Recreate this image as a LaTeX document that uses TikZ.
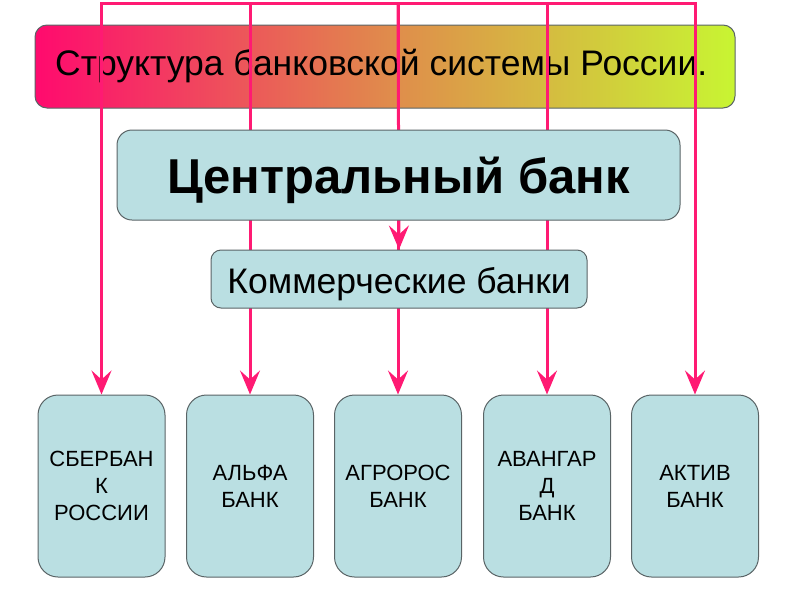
\documentclass[tikz,border=0pt]{standalone}
\usepackage{fontspec}
\setmainfont{Liberation Sans}
\usetikzlibrary{arrows.meta}
\pgfdeclarelayer{back}
\pgfdeclarelayer{lines}
\pgfsetlayers{back,lines,main}
\definecolor{pinkline}{HTML}{FF1A73}
\definecolor{boxfill}{HTML}{BADFE2}
\definecolor{boxdraw}{HTML}{5A6466}
\definecolor{gleft}{HTML}{FF0A6E}
\definecolor{gmid}{HTML}{E08A4C}
\definecolor{gright}{HTML}{C8F532}
\tikzset{
  bluebox/.style={draw=boxdraw, line width=1pt, fill=boxfill, align=center, inner sep=0pt},
  bankbox/.style={bluebox, rounded corners=20pt, minimum width=127pt, minimum height=182pt, font=\fontsize{22}{27}\selectfont},
  link/.style={draw=pinkline, line width=3pt},
  linkarrow/.style={link, -{Stealth[length=24pt, width=20pt, inset=9pt]}},
}
\begin{document}
\begin{tikzpicture}[x=1pt,y=-1pt]
\useasboundingbox (0,0) rectangle (800,600);
% banner
\begin{pgfonlayer}{back}
\node[draw=boxdraw, line width=1pt, rounded corners=12pt, left color=gleft, right color=gright, middle color=gmid,
      minimum width=700pt, minimum height=83pt, inner sep=0pt] (title) at (385,66.5) {};
\node[anchor=base west, font=\fontsize{35.5}{40}\selectfont, inner sep=0pt] (titletext) at (55,75) {Структура банковской системы России.};
\end{pgfonlayer}
% boxes
\node[bluebox, rounded corners=15pt, minimum width=563pt, minimum height=90pt] (cb) at (398.5,175) {};
\node[font=\bfseries\fontsize{49}{54}\selectfont, inner sep=0pt, anchor=base] (cbtext) at (cb.center |- 0,193) {Центральный банк};
\node[bluebox, rounded corners=10pt, minimum width=376pt, minimum height=58pt] (com) at (399,279) {};
\node[font=\fontsize{35.5}{40}\selectfont, inner sep=0pt, anchor=base] (comtext) at (com.center |- 0,293) {Коммерческие банки};
\node[bankbox] (b1) at (101.5,486) {СБЕРБАН\\К\\РОССИИ};
\node[bankbox] (b2) at (250,486) {АЛЬФА\\БАНК};
\node[bankbox] (b3) at (398,486) {АГРОРОС\\БАНК};
\node[bankbox] (b4) at (547,486) {АВАНГАР\\Д\\БАНК};
\node[bankbox] (b5) at (695,486) {АКТИВ\\БАНК};
% connectors
\coordinate (t1) at (101.5,3);
\coordinate (t2) at (250,3);
\coordinate (t3) at (398,3);
\coordinate (t4) at (547,3);
\coordinate (t5) at (695,3);
\begin{pgfonlayer}{lines}
\draw[link, line cap=rect] (t1) -- (t5);
\draw[linkarrow] (t1) -- (b1.north);
\draw[linkarrow] (t2) -- (b2.north);
\draw[linkarrow] (t3) -- (com.north);
\draw[linkarrow] (t3) -- (b3.north);
\draw[linkarrow] (t4) -- (b4.north);
\draw[linkarrow] (t5) -- (b5.north);
\end{pgfonlayer}
\end{tikzpicture}
\end{document}
